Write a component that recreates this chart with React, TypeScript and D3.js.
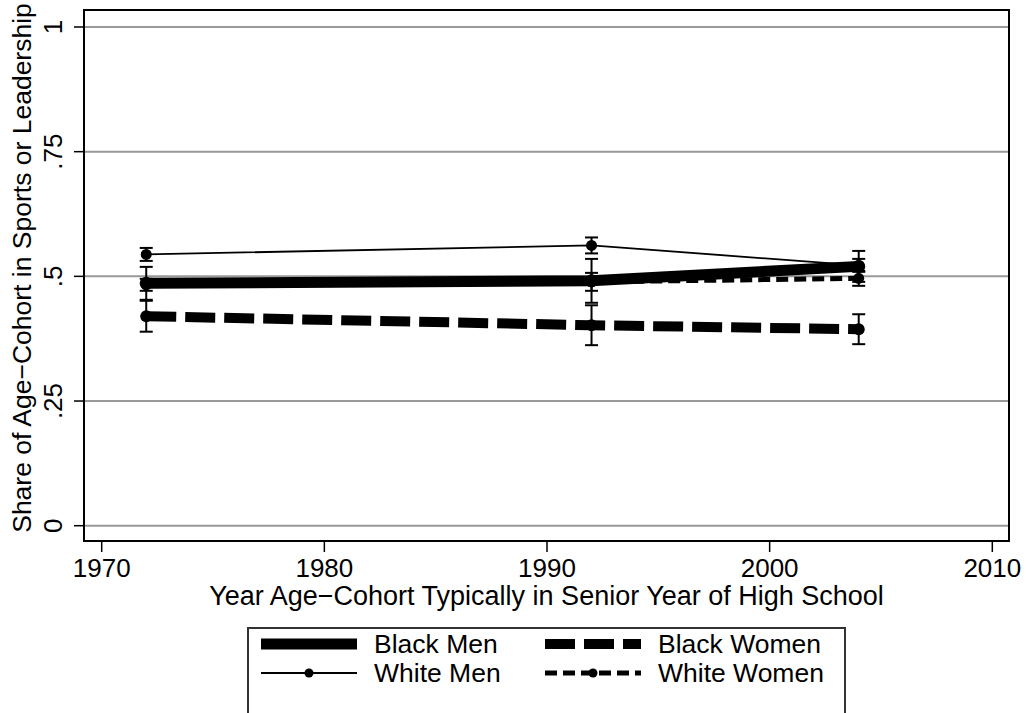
import React from "react";
import * as d3 from "d3";

// survey years (senior year of high school)
const years = [1972, 1992, 2004];

const blackMenMean = [0.486, 0.491, 0.52];
const blackMenLow = [0.453, 0.447, 0.489];
const blackMenHigh = [0.519, 0.535, 0.551];

const blackWomenMean = [0.42, 0.402, 0.394];
const blackWomenLow = [0.389, 0.362, 0.364];
const blackWomenHigh = [0.451, 0.442, 0.424];

const whiteMenMean = [0.544, 0.562, 0.522];
const whiteMenLow = [0.531, 0.546, 0.509];
const whiteMenHigh = [0.557, 0.578, 0.535];

const whiteWomenMean = [0.483, 0.489, 0.496];
const whiteWomenLow = [0.471, 0.471, 0.481];
const whiteWomenHigh = [0.495, 0.507, 0.511];

const xTicks = [1970, 1980, 1990, 2000, 2010];
const yTicks = [0, 0.25, 0.5, 0.75, 1];
const yTickLabels = ["0", ".25", ".5", ".75", "1"];

const font = "'Liberation Sans', Arial, Helvetica, sans-serif";

const layout = {
	width: 1026,
	height: 713,
	plotLeft: 84,
	plotRight: 1009,
	plotTop: 10,
	plotBottom: 541
};

const series = [
	{name: "Black Men", mean: blackMenMean, low: blackMenLow, high: blackMenHigh,
	 width: 11, dash: null, r: 6.5},
	{name: "Black Women", mean: blackWomenMean, low: blackWomenLow, high: blackWomenHigh,
	 width: 10, dash: "30 9", r: 6},
	{name: "White Men", mean: whiteMenMean, low: whiteMenLow, high: whiteMenHigh,
	 width: 1.8, dash: null, r: 5.5},
	{name: "White Women", mean: whiteWomenMean, low: whiteWomenLow, high: whiteWomenHigh,
	 width: 5, dash: "12 6", r: 5.5}
];

export default function App() {

	let xScale = d3.scaleLinear().domain([1970, 2010]).range([101.7, 992.3]);
	let yScale = d3.scaleLinear().domain([0, 1]).range([525.7, 27]);

	let line = d3.line<number>()
		.x((d, i) => xScale(years[i]))
		.y(d => yScale(d));

	let legendItems = [
		{s: series[0], x: 261, y: 644},
		{s: series[1], x: 545, y: 644},
		{s: series[2], x: 261, y: 673},
		{s: series[3], x: 545, y: 673}
	];

	return (
		<svg width={layout.width} height={layout.height}
			style={{position: "absolute", left: 0, top: 0, background: "white"}}
			fontFamily={font}>

			{/* gridlines */}
			{yTicks.map(t => (
				<line key={"g" + t} x1={layout.plotLeft} x2={layout.plotRight}
					y1={yScale(t)} y2={yScale(t)} stroke="#999" strokeWidth={2} />
			))}

			{/* series */}
			{series.map(s => (
				<g key={s.name}>
					<path d={line(s.mean) || ""} fill="none" stroke="black"
						strokeWidth={s.width} strokeDasharray={s.dash || undefined} />
					{s.mean.map((v, i) => (
						<circle key={i} cx={xScale(years[i])} cy={yScale(v)} r={s.r} fill="black" />
					))}
					{s.mean.map((v, i) => {
						let cx = xScale(years[i]);
						return (
							<g key={"e" + i} stroke="black" strokeWidth={2}>
								<line x1={cx} x2={cx} y1={yScale(s.low[i])} y2={yScale(s.high[i])} />
								<line x1={cx - 6.5} x2={cx + 6.5} y1={yScale(s.low[i])} y2={yScale(s.low[i])} />
								<line x1={cx - 6.5} x2={cx + 6.5} y1={yScale(s.high[i])} y2={yScale(s.high[i])} />
							</g>
						);
					})}
				</g>
			))}

			{/* plot border */}
			<rect x={layout.plotLeft} y={layout.plotTop}
				width={layout.plotRight - layout.plotLeft}
				height={layout.plotBottom - layout.plotTop}
				fill="none" stroke="black" strokeWidth={2} />

			{/* y axis */}
			{yTicks.map((t, i) => (
				<g key={"y" + t}>
					<line x1={74} x2={layout.plotLeft} y1={yScale(t)} y2={yScale(t)}
						stroke="black" strokeWidth={1.5} />
					<text transform={`translate(62, ${yScale(t)}) rotate(-90)`}
						textAnchor="middle" fontSize={26}>{yTickLabels[i]}</text>
				</g>
			))}
			<text transform={`translate(31, 268) rotate(-90)`} textAnchor="middle" fontSize={26.5}>
				Share of Age−Cohort in Sports or Leadership
			</text>

			{/* x axis */}
			{xTicks.map(t => (
				<g key={"x" + t}>
					<line x1={xScale(t)} x2={xScale(t)} y1={layout.plotBottom} y2={552}
						stroke="black" strokeWidth={1.5} />
					<text x={xScale(t)} y={577} textAnchor="middle" fontSize={26}>{t}</text>
				</g>
			))}
			<text x={(layout.plotLeft + layout.plotRight) / 2} y={605} textAnchor="middle" fontSize={27}>
				Year Age−Cohort Typically in Senior Year of High School
			</text>

			{/* legend */}
			<rect x={248} y={628} width={597} height={100} fill="white" stroke="#333" strokeWidth={2} />
			{legendItems.map(({s, x, y}) => (
				<g key={"l" + s.name}>
					<line x1={x} x2={x + 96} y1={y} y2={y} stroke="black"
						strokeWidth={s.width} strokeDasharray={s.dash || undefined} />
					{s.width < 6 && <circle cx={x + 48} cy={y} r={4.5} fill="black" />}
					<text x={x + 113} y={y + 9} fontSize={26.5}>{s.name}</text>
				</g>
			))}
		</svg>
	);
}
